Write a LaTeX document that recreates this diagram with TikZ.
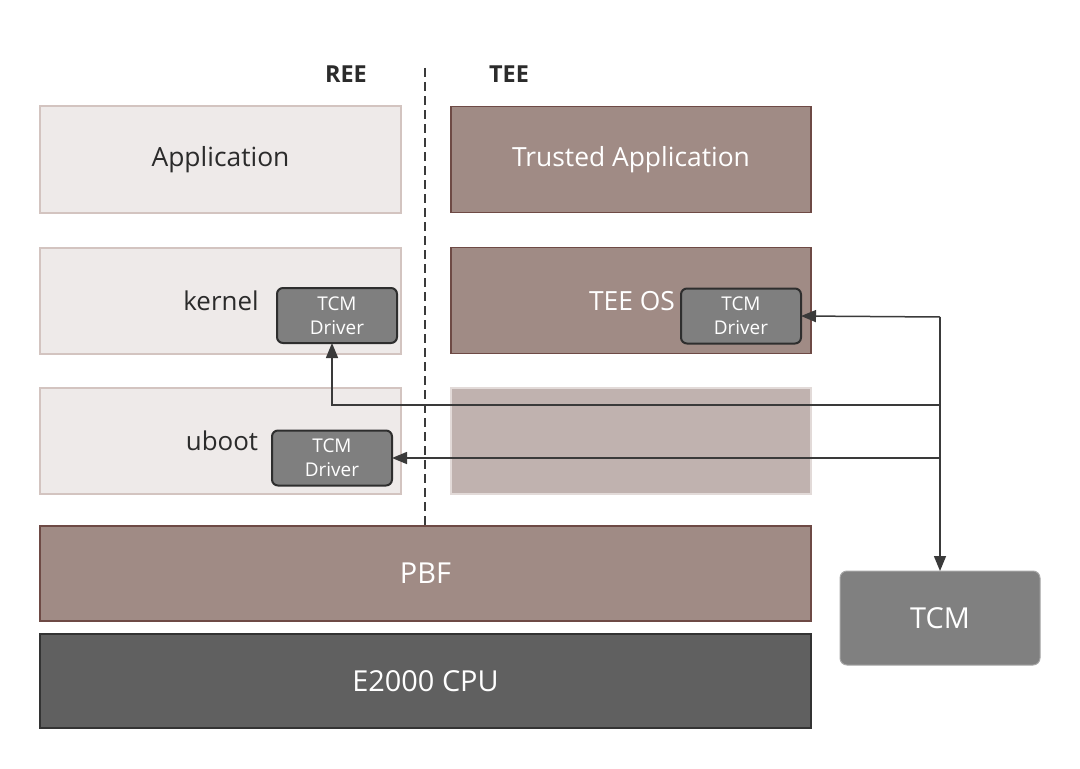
\documentclass[tikz,border=0pt]{standalone}
\usepackage{fontspec}
\setmainfont{Open Sans}
\usetikzlibrary{arrows.meta}
\definecolor{reefill}{HTML}{EEEAE9}
\definecolor{reeline}{HTML}{D3C4C0}
\definecolor{teefill}{HTML}{A08B85}
\definecolor{teeline}{HTML}{6E4A45}
\definecolor{fadefill}{HTML}{C0B2AF}
\definecolor{fadeline}{HTML}{E2DAD8}
\definecolor{cpufill}{HTML}{606060}
\definecolor{cpuline}{HTML}{333333}
\definecolor{drvfill}{HTML}{7F7F7F}
\definecolor{drvline}{HTML}{2E2E2E}
\definecolor{tcmfill}{HTML}{808080}
\definecolor{txt}{HTML}{2B2B2B}
\definecolor{conn}{HTML}{3A3A3A}
\tikzset{
  every node/.style={inner sep=0pt, outer sep=0pt},
  reebox/.style={rectangle, fill=reefill, draw=reeline, line width=2bp, minimum width=360bp, minimum height=106bp, text=txt, font=\fontsize{26.5}{30}\selectfont},
  teebox/.style={rectangle, fill=teefill, draw=teeline, line width=1.6bp, minimum width=360bp, minimum height=106bp, text=white, font=\fontsize{26.5}{30}\selectfont},
  fadebox/.style={rectangle, fill=fadefill, draw=fadeline, line width=2bp, minimum width=360bp, minimum height=106bp},
  pbfbox/.style={rectangle, fill=teefill, draw=teeline, line width=1.6bp, minimum width=771bp, minimum height=95bp, text=white, font=\fontsize{29}{33}\selectfont},
  cpubox/.style={rectangle, fill=cpufill, draw=cpuline, line width=2bp, minimum width=771bp, minimum height=94bp, text=white, font=\fontsize{29}{33}\selectfont},
  drvbox/.style={rectangle, rounded corners=6bp, fill=drvfill, draw=drvline, line width=2bp, minimum width=120bp, minimum height=55bp, text=white, align=center, font=\fontsize{19}{24}\selectfont},
  tcmbox/.style={rectangle, rounded corners=7bp, fill=tcmfill, draw=tcmfill!70!white, line width=1bp, minimum width=200bp, minimum height=94bp, text=white, font=\fontsize{29}{33}\selectfont},
  lbl/.style={text=txt, font=\fontsize{26}{30}\selectfont},
  hdr/.style={text=txt, font=\bfseries\fontsize{23.5}{28}\selectfont},
  conline/.style={draw=conn, line width=1.5bp},
  tip/.style={-{Triangle[length=15bp,width=12bp]}}
}
\begin{document}
\begin{tikzpicture}[x=1bp,y=-1bp]
\useasboundingbox (0,0) rectangle (1080,769);
% boxes
\node[reebox] (app) at (220.5,159.5) {Application};
\node[teebox] (ta) at (631,159.5) {Trusted Application};
\node[reebox] (kernel) at (220.5,300.5) {};
\node[teebox] (teeos) at (631,300.5) {};
\node[reebox] (uboot) at (220.5,440.5) {};
\node[fadebox] (fade) at (631,440.5) {};
\node[pbfbox] (pbf) at (425.5,573.5) {PBF};
\node[cpubox] (cpu) at (425.5,681) {E2000 CPU};
\node[tcmbox] (tcm) at (940,618) {TCM};
% labels inside boxes
\node[lbl] (kernellbl) at (221,301) {kernel};
\node[lbl] (ubootlbl) at (222,441) {uboot};
\node[teebox, draw=none, fill=none, minimum width=0pt, minimum height=0pt] (teeoslbl) at (632,301) {TEE OS};
% drivers
\node[drvbox] (kdrv) at (337,315.5) {TCM\\Driver};
\node[drvbox] (udrv) at (332,458) {TCM\\Driver};
\node[drvbox] (tdrv) at (741,316) {TCM\\Driver};
% headers
\node[hdr] (ree) at (346,74) {REE};
\node[hdr] (tee) at (509,74) {TEE};
% divider
\coordinate (dtop) at (425,68);
\coordinate (dbot) at (425,526);
\draw[conline, dashed, dash pattern=on 9bp off 5bp, line width=2bp] (dtop) -- (dbot);
% connectors
\coordinate (j1) at (940,317);
\coordinate (j2) at (940,405);
\coordinate (j3) at (940,458);
\draw[conline, tip] (j1) -- (tcm.north);
\draw[conline, tip] (j1) -- (tdrv.east);
\draw[conline, tip] (j2) -| ([xshift=55bp]kdrv.south west);
\draw[conline, tip] (j3) -- (udrv.east);
\end{tikzpicture}
\end{document}
